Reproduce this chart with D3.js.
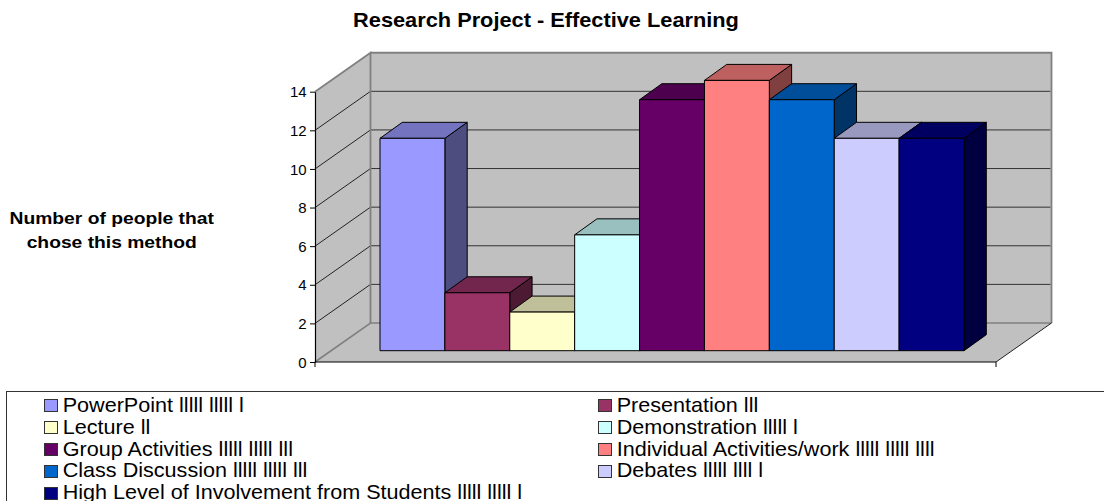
<!DOCTYPE html>
<html><head><meta charset="utf-8">
<script src="https://cdn.jsdelivr.net/npm/d3@7"></script>
<style>html,body{margin:0;background:#fff}svg{display:block}text{font-family:"Liberation Sans",Arial,sans-serif;fill:#000}</style>
</head><body><div id="c"></div>
<script>
const categories=["PowerPoint","Presentation","Lecture","Demonstration","Group Activities","Individual Activities/work","Class Discussion","Debates","High Level of Involvement from Students"];
const values=[11,3,2,6,13,14,13,11,11];
const tallies=["lllll lllll l","lll","ll","lllll l","lllll lllll lll","lllll lllll llll","lllll lllll lll","lllll llll l","lllll lllll l"];
const colors=["#9999FF","#993366","#FFFFCC","#CCFFFF","#660066","#FF8080","#0066CC","#CCCCFF","#000080"];
const yTicks=[0,2,4,6,8,10,12,14];
const W=1104,H=501;
const svg=d3.select("#c").append("svg").attr("width",W).attr("height",H);
const y=d3.scaleLinear().domain([0,14]).range([362,91.7]);
const x=d3.scaleBand().domain(categories).range([380,964]).padding(0);
const plotL=315,plotR=996,wallDx=55.5,wallDy=-39;
const barBase=350.7-362, barDx=22.3, barDy=-16;
const pts=a=>a.map(p=>p.join(",")).join(" ");
const g=svg.append("g");
// walls and floor
g.append("polygon").attr("points",pts([[plotL+wallDx,y(14)+wallDy],[plotR+wallDx,y(14)+wallDy],[plotR+wallDx,y(0)+wallDy],[plotL+wallDx,y(0)+wallDy]])).attr("fill","#C0C0C0");
g.append("polygon").attr("points",pts([[plotL,y(14)],[plotL+wallDx,y(14)+wallDy],[plotL+wallDx,y(0)+wallDy],[plotL,y(0)]])).attr("fill","#C0C0C0");
g.append("polygon").attr("points",pts([[plotL,y(0)],[plotL+wallDx,y(0)+wallDy],[plotR+wallDx,y(0)+wallDy],[plotR,y(0)]])).attr("fill","#C0C0C0");
// gridlines
yTicks.filter(d=>d>0&&d<14).forEach(d=>{
  g.append("line").attr("x1",plotL).attr("y1",y(d)).attr("x2",plotL+wallDx).attr("y2",y(d)+wallDy).attr("stroke","#111").attr("stroke-width",.9);
});
yTicks.filter(d=>d>0).forEach(d=>{
  g.append("line").attr("x1",plotL+wallDx).attr("y1",y(d)+wallDy).attr("x2",plotR+wallDx-1).attr("y2",y(d)+wallDy).attr("stroke","#333").attr("stroke-width",1);
});
// wall borders
g.append("polyline").attr("points",pts([[plotL,y(0)],[plotL+wallDx,y(0)+wallDy],[plotR+wallDx,y(0)+wallDy]])).attr("fill","none").attr("stroke","#808080").attr("stroke-width",1.6);
g.append("polyline").attr("points",pts([[plotL,y(14)],[plotL+wallDx,y(14)+wallDy],[plotL+wallDx,y(0)+wallDy]])).attr("fill","none").attr("stroke","#808080").attr("stroke-width",1.8);
g.append("polyline").attr("points",pts([[plotL+wallDx,y(14)+wallDy],[plotR+wallDx,y(14)+wallDy],[plotR+wallDx,y(0)+wallDy]])).attr("fill","none").attr("stroke","#808080").attr("stroke-width",1.8);
// bars
categories.forEach((c,i)=>{
  const x0=x(c),x1=x0+x.bandwidth(),b=y(0)+barBase,t=y(values[i])+barBase;
  const col=d3.color(colors[i]);
  const shade=k=>d3.rgb(col.r*k,col.g*k,col.b*k).formatHex();
  const s={stroke:"#000","stroke-width":1,"stroke-linejoin":"round"};
  const poly=(p,f)=>{const e=g.append("polygon").attr("points",pts(p)).attr("fill",f);Object.entries(s).forEach(([k,v])=>e.attr(k,v));};
  poly([[x1,t],[x1+barDx,t+barDy],[x1+barDx,b+barDy],[x1,b]],shade(.5));
  poly([[x0,t],[x0+barDx,t+barDy],[x1+barDx,t+barDy],[x1,t]],shade(.75));
  poly([[x0,t],[x1,t],[x1,b],[x0,b]],colors[i]);
});
// front edges and axes
g.append("line").attr("x1",plotL).attr("y1",y(0)).attr("x2",plotR).attr("y2",y(0)).attr("stroke","#000");
g.append("line").attr("x1",plotR).attr("y1",y(0)).attr("x2",plotR+wallDx).attr("y2",y(0)+wallDy).attr("stroke","#222");
g.append("line").attr("x1",plotR).attr("y1",y(0)).attr("x2",plotR).attr("y2",y(0)+5).attr("stroke","#000");
g.append("line").attr("x1",plotL).attr("y1",y(0)).attr("x2",plotL).attr("y2",y(0)+5).attr("stroke","#000");
const ax=svg.append("g").attr("transform",`translate(${plotL},0)`).call(d3.axisLeft(y).tickValues(yTicks).tickSize(5).tickPadding(3.3).tickSizeOuter(0));
ax.select(".domain").attr("stroke","#000").attr("stroke-width",1.2);
ax.selectAll("line").attr("stroke","#000");
ax.selectAll("text").attr("font-size",15).attr("dy","0.34em").attr("font-family",'"Liberation Sans"');
// stretched text helper
const label=(tx,ty,sx,size,str,bold,anchor)=>svg.append("text").attr("transform",`translate(${tx},${ty}) scale(${sx},1)`).attr("font-size",size).attr("font-weight",bold?"bold":"normal").attr("text-anchor",anchor||"start").text(str);
label(546,27,1.1,19.8,"Research Project - Effective Learning",true,"middle");
label(111.7,223.5,1.12,17.2,"Number of people that",true,"middle");
label(111.7,248,1.12,17.2,"chose this method",true,"middle");
// legend
svg.append("rect").attr("x",6.5).attr("y",391.5).attr("width",1200).attr("height",200).attr("fill","#fff").attr("stroke","#333");
const rowY=[405,427,449,470.5,492.5];
categories.forEach((c,i)=>{
  const r=Math.floor(i/2),lx=i%2?598.5:44.5,yy=rowY[r];
  svg.append("rect").attr("x",lx).attr("y",Math.round(yy-6)+.5).attr("width",13).attr("height",12).attr("fill",colors[i]).attr("stroke","#333");
  label(lx+18.2,yy+6.7,1.08,20,c+" "+tallies[i]);
});
</script></body></html>
